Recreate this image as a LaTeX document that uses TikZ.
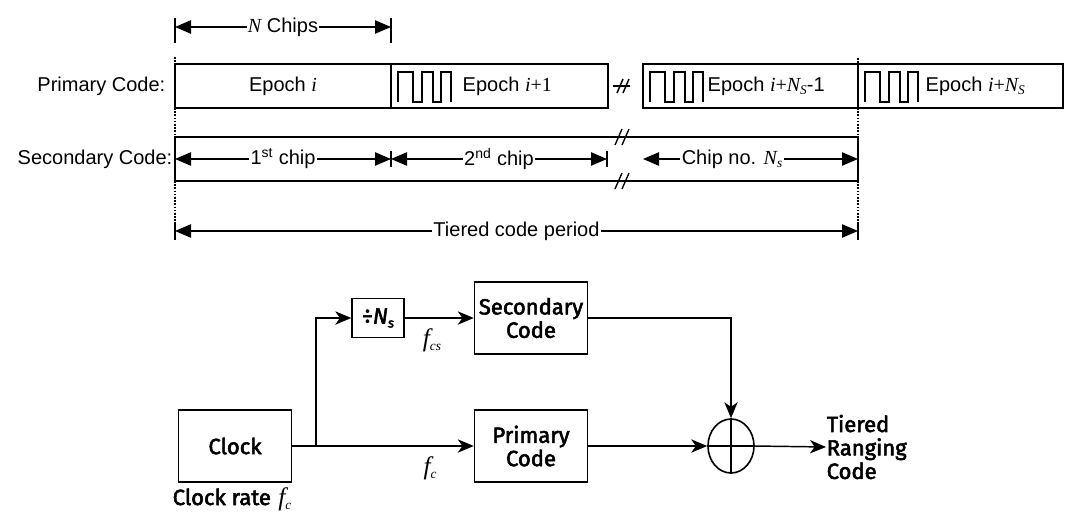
\documentclass[tikz,border=0pt]{standalone}
\usepackage{fontspec}
\setmainfont{Liberation Sans}
\newfontfamily\timfont{Liberation Serif}
\newfontfamily\firafont{Fira Sans}[FakeBold=2.5]
\usetikzlibrary{arrows.meta,shapes.geometric}
\newcommand\mi[1]{{\timfont\itshape #1}}
\newcommand\tm[1]{{\timfont #1}}
\newcommand\smallsub[1]{\raisebox{-0.35ex}{\fontsize{10}{10}\selectfont #1}}
\newcommand\sqwave[1]{\draw[line width=1pt] (#1) -- ++(0,-30) -- ++(15,0) -- ++(0,30) -- ++(9,0) -- ++(0,-30) -- ++(11,0) -- ++(0,30) -- ++(8,0) -- ++(0,-30) -- ++(10,0) -- ++(0,30);}
\tikzset{
  dtip/.tip={Triangle[length=12pt,width=10pt]},
  ftip/.tip={Stealth[length=12pt,width=10pt,inset=3.5pt]}
}
\begin{document}
\begin{tikzpicture}[x=0.75pt,y=-0.75pt,
  line width=1.1pt,
  tf/.style={font=\fontsize{15}{18}\selectfont, inner sep=0pt},
  ebox/.style={draw, line width=1.1pt, minimum height=44*0.75pt, inner sep=0pt, outer sep=0pt, anchor=north west},
  dimarr/.style={dtip-dtip, line width=1pt},
  dotl/.style={line width=0.9pt, dash pattern=on 1.2pt off 1.2pt},
  bf/.style={font=\firafont\fontsize{16.5}{17.5}\selectfont},
  blk/.style={draw, line width=1.1pt, minimum width=113*0.75pt, minimum height=72*0.75pt, inner sep=0pt, align=center, bf},
  flow/.style={-ftip, line width=1.1pt},
  mth/.style={font=\timfont\itshape\fontsize{19}{20}\selectfont, inner sep=0pt},
]
\useasboundingbox (0,0) rectangle (1065,512);

% ---- N chips
\draw (175,18) -- (175,43);
\draw (391,18) -- (391,43);
\draw[dimarr] (175,27) -- node[tf, fill=white, inner xsep=1pt] (nch) {\mi{N} Chips} (391,27);

% ---- primary code
\node[tf, anchor=east] (plab) at (166,86) {Primary Code:};
\node[ebox, minimum width=216*0.75pt] (e1) at (175,64) {};
\node[ebox, minimum width=217*0.75pt] (e2) at (391,64) {};
\node[ebox, minimum width=215*0.75pt] (e3) at (643,64) {};
\node[ebox, minimum width=205*0.75pt] (e4) at (858,64) {};
\node[tf] (t1) at (283,86) {Epoch \mi{i}};
\sqwave{398,102}
\node[tf, anchor=west] (t2) at (462,86) {Epoch \mi{i}\tm{+1}};
\sqwave{650,102}
\node[tf, anchor=west] (t3) at (707,86) {Epoch \mi{i}\tm{+}\mi{N}\smallsub{\mi{S}}-1};
\sqwave{865,102}
\node[tf, anchor=west] (t4) at (925,86) {Epoch \mi{i}\tm{+}\mi{N}\smallsub{\mi{S}}};
\draw[line width=1pt] (613,86) -- (630,86);
\draw[line width=1.1pt] (617,93) -- (623,79);
\draw[line width=1.1pt] (623,93) -- (629,79);

% ---- secondary code
\node[tf, anchor=east] (slab) at (173,159) {Secondary Code:};
\node[ebox, minimum width=683*0.75pt] (sb) at (175,137) {};
\draw[line width=1pt] (615,145) -- (622,129);
\draw[line width=1pt] (622,145) -- (629,129);
\draw[line width=1pt] (615,189) -- (622,173);
\draw[line width=1pt] (622,189) -- (629,173);
\draw (391,151) -- (391,167);
\draw (607,151) -- (607,167);
\draw[dimarr] (175,159) -- node[tf, fill=white, inner xsep=1pt] (c1) {1\textsuperscript{st} chip} (391,159);
\draw[dimarr] (391,159) -- node[tf, fill=white, inner xsep=1pt] (c2) {2\textsuperscript{nd} chip} (607,159);
\draw[dimarr] (643,159) -- node[tf, fill=white, inner xsep=1pt, pos=0.414] (c3) {Chip no. \mi{N}\smallsub{\mi{s}}} (858,159);

% ---- dotted guides
\draw[dotl] (175,57) -- (175,64);
\draw[dotl] (175,108) -- (175,137);
\draw[dotl] (175,181) -- (175,222);
\draw[dotl] (858,58) -- (858,64);
\draw[dotl] (858,108) -- (858,137);
\draw[dotl] (858,181) -- (858,222);

% ---- tiered code period
\draw (175,222) -- (175,240);
\draw (858,222) -- (858,240);
\draw[dimarr] (175,231) -- node[tf, fill=white, inner xsep=1pt] (tp) {Tiered code period} (858,231);

% ---- block diagram
\node[blk] (clk) at (235,446) {Clock};
\node[blk] (prim) at (531,446) {Primary\\Code};
\node[blk] (sec) at (531,318) {Secondary\\Code};
\node[draw, line width=1.1pt, minimum width=52*0.75pt, minimum height=39*0.75pt, inner sep=0pt, bf] (div) at (378,318) {÷\itshape N\smallsub{s}};
\node[draw, ellipse, minimum width=46*0.75pt, minimum height=54*0.75pt, inner sep=0pt, line width=1.2pt] (xor) at (731,446) {};
\draw (xor.north) -- (xor.south);
\draw (xor.west) -- (xor.east);
\coordinate (br) at (316,446);
\node[anchor=west, align=left, inner sep=0pt, font=\firafont\fontsize{16.5}{17.6}\selectfont] (out) at (826,447) {Tiered\\Ranging\\Code};

\draw[flow] (clk.east) -- (prim.west);
\draw[flow] (br) |- (div.west);
\draw[flow] (div.east) -- (sec.west);
\draw[flow] (sec.east) -| (xor.north);
\draw[flow] (prim.east) -- (xor.west);
\draw[flow] (xor.east) -- (out.west);

\node[mth] (fcs) at (432,340) {f\smallsub{cs}};
\node[mth] (fc) at (430,468) {f\smallsub{c}};
\node[anchor=base west, inner sep=0pt] (crate) at (172,505) {{\firafont\fontsize{16.5}{17}\selectfont Clock rate}\ \ {\timfont\itshape\fontsize{19}{20}\selectfont f\smallsub{c}}};
\end{tikzpicture}
\end{document}
